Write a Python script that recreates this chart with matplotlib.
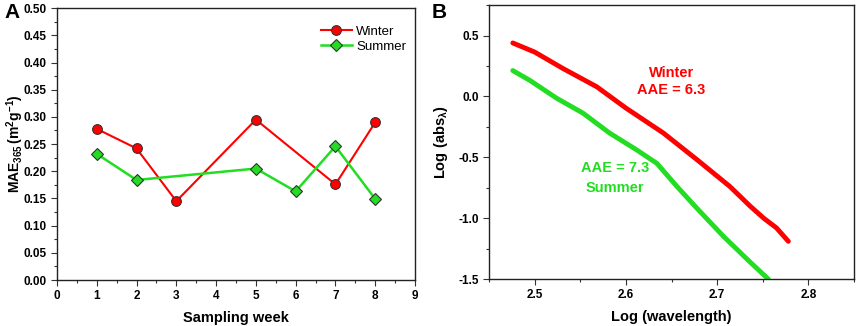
import numpy as np
import matplotlib.pyplot as plt
from matplotlib.ticker import MultipleLocator

# panel A data
winter_weeks = [1, 2, 3, 5, 7, 8]
winter_mae = [0.278, 0.242, 0.145, 0.295, 0.176, 0.290]
summer_weeks = [1, 2, 5, 6, 7, 8]
summer_mae = [0.232, 0.184, 0.205, 0.163, 0.246, 0.149]

# panel B data (log wavelength vs log absorbance)
winter_logwl = [2.476, 2.500, 2.531, 2.568, 2.600, 2.641, 2.678, 2.714, 2.736, 2.751, 2.765, 2.778]
winter_logabs = [0.44, 0.365, 0.23, 0.08, -0.095, -0.30, -0.52, -0.74, -0.90, -1.00, -1.08, -1.19]
summer_logwl = [2.476, 2.495, 2.524, 2.553, 2.582, 2.612, 2.634, 2.656, 2.678, 2.707, 2.736, 2.756]
summer_logabs = [0.213, 0.131, -0.014, -0.137, -0.30, -0.44, -0.55, -0.74, -0.92, -1.15, -1.36, -1.50]

red = "#ff0000"
green = "#22dd22"

plt.rcParams['font.family'] = ['Liberation Sans', 'DejaVu Sans']
plt.rcParams['mathtext.fontset'] = 'custom'
plt.rcParams['mathtext.bf'] = 'Liberation Sans:bold'
plt.rcParams['mathtext.rm'] = 'Liberation Sans'

fig = plt.figure(figsize=(8.58, 3.26), dpi=100)
axA = fig.add_axes([0.0664, 0.141, 0.4173, 0.834])
axB = fig.add_axes([0.570, 0.144, 0.4254, 0.840])

# ---- panel A
axA.plot(winter_weeks, winter_mae, color=red, lw=1.5, marker='o', ms=7,
         mfc=red, mec='#333333', mew=0.8, label='Winter')
axA.plot(summer_weeks, summer_mae, color=green, lw=1.8, marker='D', ms=6,
         mfc=green, mec='#333333', mew=0.8, label='Summer')
axA.set_xlim(0, 9)
axA.set_ylim(0, 0.5)
axA.xaxis.set_major_locator(MultipleLocator(1))
axA.xaxis.set_minor_locator(MultipleLocator(0.5))
axA.yaxis.set_major_locator(MultipleLocator(0.05))
axA.yaxis.set_minor_locator(MultipleLocator(0.025))
axA.set_yticklabels([f"{v:.2f}" for v in axA.get_yticks()])
axA.set_xlabel("Sampling week", fontsize=10.5, fontweight='bold', labelpad=6)
axA.set_ylabel(r"$\mathbf{MAE_{365}\,(m^2g^{-1})}$", fontsize=10)
axA.yaxis.set_label_coords(-0.087, 0.5)
axA.legend(loc='upper right', bbox_to_anchor=(0.99, 0.955), frameon=False,
           fontsize=9.5, handlelength=2.4, borderaxespad=0, labelspacing=0.2,
           handletextpad=0.3)

# ---- panel B
axB.plot(winter_logwl, winter_logabs, color=red, lw=3.5, solid_capstyle='round')
axB.plot(summer_logwl, summer_logabs, color=green, lw=3.5, solid_capstyle='round')
axB.set_xlim(2.45, 2.85)
axB.set_ylim(-1.5, 0.75)
axB.xaxis.set_minor_locator(MultipleLocator(0.05))
axB.yaxis.set_minor_locator(MultipleLocator(0.25))
axB.set_yticks([-1.5, -1.0, -0.5, 0.0, 0.5])
axB.set_yticklabels(["-1.5", "-1.0", "-0.5", "0.0", "0.5"])
axB.set_xticks([2.5, 2.6, 2.7, 2.8])
axB.set_xticklabels(["2.5", "2.6", "2.7", "2.8"])
axB.set_xlabel("Log (wavelength)", fontsize=10.5, fontweight='bold', labelpad=6)
axB.set_ylabel(r"$\mathbf{Log\ (abs_{\lambda})}$", fontsize=10.5, labelpad=6)
axB.text(2.65, 0.197, "Winter", color=red, fontsize=10.5, fontweight='bold',
         ha='center', va='center')
axB.text(2.65, 0.05, "AAE = 6.3", color=red, fontsize=10.5, fontweight='bold',
         ha='center', va='center')
axB.text(2.588, -0.59, "AAE = 7.3", color=green, fontsize=10.5, fontweight='bold',
         ha='center', va='center')
axB.text(2.588, -0.75, "Summer", color=green, fontsize=10.5, fontweight='bold',
         ha='center', va='center')

# panel letters
fig.text(4 / 858, 1 - 13 / 326, "A", fontsize=15, fontweight='bold', va='center', ha='left')
fig.text(432 / 858, 1 - 12 / 326, "B", fontsize=15, fontweight='bold', va='center', ha='left')

for ax in (axA, axB):
    for s in ax.spines.values():
        s.set_linewidth(1.0)
        s.set_color('#222222')
    ax.tick_params(which='both', direction='out', top=False, right=False,
                   labelsize=8.5, width=0.8, color='#333333')
    ax.tick_params(which='major', length=4)
    ax.tick_params(which='minor', length=2.5)
    for lbl in ax.get_xticklabels() + ax.get_yticklabels():
        lbl.set_fontweight('bold')

fig.savefig("out.png", dpi=100)
